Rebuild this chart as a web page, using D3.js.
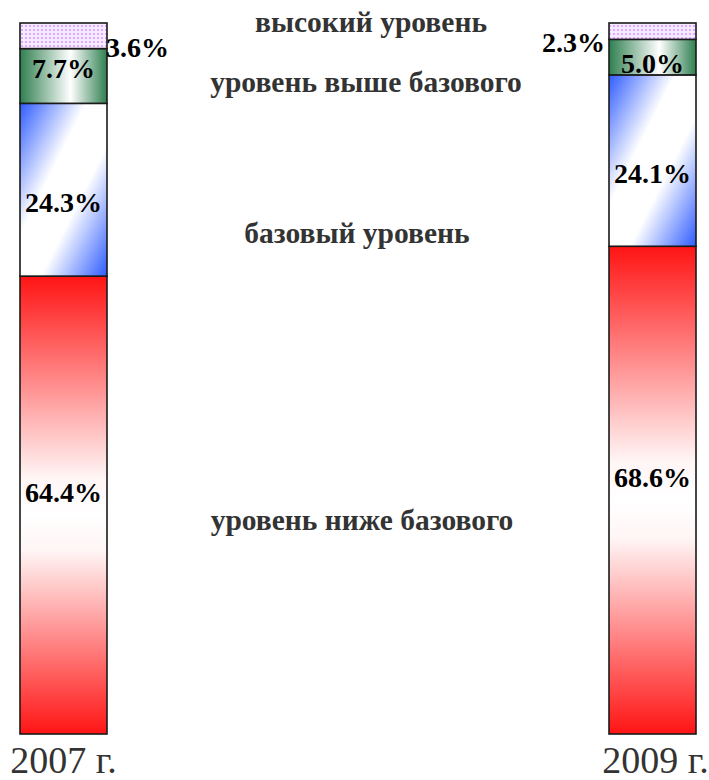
<!DOCTYPE html>
<html>
<head>
<meta charset="utf-8">
<script src="https://cdn.jsdelivr.net/npm/d3@7"></script>
<style>
html,body{margin:0;padding:0;background:#fff;}
svg{display:block;}
</style>
</head>
<body>
<svg id="chart" width="709" height="780"></svg>
<script>
// ---- data ----
const years = ["2007 г.", "2009 г."];
const levels = ["уровень ниже базового", "базовый уровень", "уровень выше базового", "высокий уровень"];
const values2007 = [64.4, 24.3, 7.7, 3.6];
const values2009 = [68.6, 24.1, 5.0, 2.3];
const valueLabels2007 = ["64.4%", "24.3%", "7.7%", "3.6%"];
const valueLabels2009 = ["68.6%", "24.1%", "5.0%", "2.3%"];

const svg = d3.select("#chart");

const y = d3.scaleLinear().domain([0, 100]).range([734, 23]);
const x = d3.scaleBand().domain(years).range([20, 696]).paddingInner(0.8523).paddingOuter(0);

// ---- defs ----
const defs = svg.append("defs");
const red = defs.append("linearGradient").attr("id", "gRed").attr("x1", 0).attr("y1", 0).attr("x2", 0).attr("y2", 1);
[[0, "#ff1414"], [0.44, "#fff5f5"], [0.52, "#ffffff"], [0.6, "#fff5f5"], [1, "#ff1414"]]
  .forEach(s => red.append("stop").attr("offset", s[0]).attr("stop-color", s[1]));
const blue = defs.append("linearGradient").attr("id", "gBlue").attr("x1", 0).attr("y1", 0).attr("x2", 1).attr("y2", 1);
[[0, "#2f5cff"], [0.38, "#ffffff"], [0.62, "#ffffff"], [1, "#2f5cff"]]
  .forEach(s => blue.append("stop").attr("offset", s[0]).attr("stop-color", s[1]));
const green = defs.append("linearGradient").attr("id", "gGreen").attr("x1", 0).attr("y1", 0).attr("x2", 1).attr("y2", 0);
[[0, "#2f7f50"], [0.58, "#ffffff"], [1, "#2f7f50"]]
  .forEach(s => green.append("stop").attr("offset", s[0]).attr("stop-color", s[1]));
const pat = defs.append("pattern").attr("id", "pDots").attr("patternUnits", "userSpaceOnUse")
  .attr("width", 4).attr("height", 4);
pat.append("rect").attr("width", 4).attr("height", 4).attr("fill", "#f6eaff");
pat.append("rect").attr("x", 1).attr("y", 1).attr("width", 2).attr("height", 2).attr("fill", "#dcaaff");

const fills = ["url(#gRed)", "url(#gBlue)", "url(#gGreen)", "url(#pDots)"];

// ---- stack ----
const table = years.map((yr, i) => {
  const vals = i === 0 ? values2007 : values2009;
  const o = { year: yr };
  levels.forEach((l, j) => o[l] = vals[j]);
  return o;
});
const series = d3.stack().keys(levels)(table);

series.forEach((s, j) => {
  svg.append("g").selectAll("rect").data(s).join("rect")
    .attr("x", d => x(d.data.year))
    .attr("y", d => y(d[1]))
    .attr("width", x.bandwidth())
    .attr("height", d => y(d[0]) - y(d[1]))
    .attr("fill", fills[j])
    .attr("stroke", "#1a1a1a")
    .attr("stroke-width", 1.6);
});

// ---- value labels ----
// placement tweaks (layout only)
const nudge = {
  "2007 г.": [ -3, 22, 2, null ],
  "2009 г.": [ -3, 22, 16, null ]
};
const vfont = "'Liberation Serif','Times New Roman',serif";
years.forEach((yr, i) => {
  const labs = i === 0 ? valueLabels2007 : valueLabels2009;
  series.forEach((s, j) => {
    const d = s[i];
    const mid = (y(d[0]) + y(d[1])) / 2;
    const t = svg.append("text")
      .attr("font-family", vfont).attr("font-weight", "bold").attr("font-size", 28)
      .attr("fill", "#000")
      .text(labs[j]);
    if (j === 3) {
      if (i === 0) {
        t.attr("x", x(yr) + x.bandwidth() - 1).attr("y", y(d[0]) + 8).attr("text-anchor", "start");
      } else {
        t.attr("x", x(yr) - 4).attr("y", y(d[0]) + 13).attr("text-anchor", "end");
      }
    } else {
      t.attr("x", x(yr) + x.bandwidth() / 2).attr("y", mid + nudge[yr][j]).attr("text-anchor", "middle");
    }
  });
});

// ---- level names in the middle ----
const levelPos = [530, 243, 92, 32];
const levelX = [362, 357, 366, 371];
levels.forEach((l, j) => {
  svg.append("text")
    .attr("x", levelX[j]).attr("y", levelPos[j])
    .attr("text-anchor", "middle")
    .attr("font-family", vfont).attr("font-weight", "bold").attr("font-size", 29.5)
    .attr("fill", "#333")
    .text(l);
});

// ---- category labels ----
svg.append("g").selectAll("text").data(years).join("text")
  .attr("x", d => x(d) + x.bandwidth() / 2 + (d === years[1] ? 3 : 0))
  .attr("y", 773)
  .attr("text-anchor", "middle")
  .attr("font-family", vfont).attr("font-size", 38)
  .attr("fill", "#333")
  .text(d => d);
</script>
</body>
</html>
